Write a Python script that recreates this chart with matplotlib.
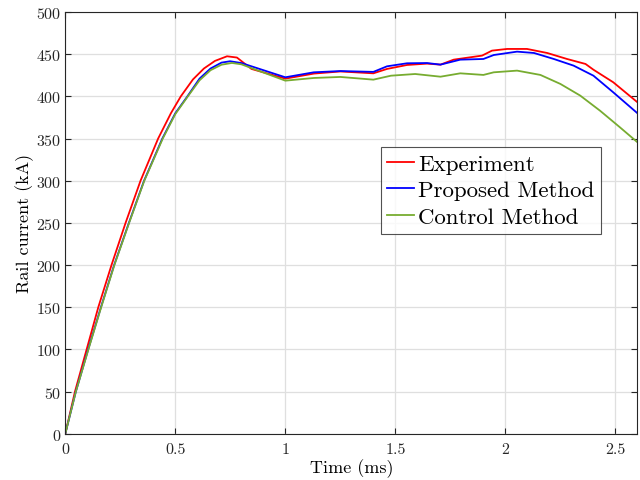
import numpy as np
import matplotlib
matplotlib.use("Agg")
import matplotlib.pyplot as plt

plt.rcParams['font.family'] = 'serif'
plt.rcParams['font.serif'] = ['cmr10']
plt.rcParams['mathtext.fontset'] = 'cm'
plt.rcParams['axes.formatter.use_mathtext'] = True

# Experiment (red)
tExp = [0, 0.044, 0.097, 0.150, 0.210, 0.274, 0.342, 0.422, 0.48, 0.525, 0.58, 0.63, 0.68, 0.735,
        0.78, 0.846, 1.0, 1.13, 1.25, 1.40, 1.462, 1.553, 1.644, 1.705, 1.765, 1.894, 1.939,
        2.008, 2.098, 2.19, 2.28, 2.364, 2.40, 2.49, 2.6]
iExp = [0, 50, 100, 150, 200, 250, 300, 350, 380, 400, 420, 433, 442, 447.5,
        446, 432.5, 421, 427, 429.5, 427.3, 432.5, 437.2, 438.8, 437.6, 443.5, 448.3, 454.2,
        456.2, 456.2, 451.4, 444.3, 438.4, 431.6, 416.7, 393]

# Proposed Method (blue)
tProp = [0, 0.048, 0.104, 0.162, 0.222, 0.289, 0.358, 0.441, 0.50, 0.555, 0.61, 0.66, 0.71,
         0.749, 0.80, 1.0, 1.129, 1.25, 1.40, 1.462, 1.553, 1.644, 1.705, 1.795, 1.90, 1.947,
         2.053, 2.13, 2.22, 2.31, 2.40, 2.49, 2.6]
iProp = [0, 50, 100, 150, 200, 250, 300, 350, 380, 400, 421, 433, 440,
         441.6, 439.5, 422.6, 428.5, 430, 429, 435.6, 439.2, 439.5, 437.6, 443.5, 444.3, 449,
         453, 451.4, 444.3, 436.4, 424.5, 404.8, 380]

# Control Method (green)
tCtrl = [0, 0.048, 0.105, 0.163, 0.223, 0.290, 0.359, 0.443, 0.50, 0.557, 0.61, 0.66, 0.71,
         0.757, 0.80, 1.0, 1.13, 1.25, 1.40, 1.48, 1.59, 1.705, 1.795, 1.90, 1.947, 2.053,
         2.159, 2.25, 2.34, 2.43, 2.52, 2.6]
iCtrl = [0, 50, 100, 150, 200, 250, 300, 350, 379, 400, 419, 431, 437.5,
         439.6, 438, 418.6, 421.8, 423, 419.8, 424.5, 426.5, 423.3, 427.3, 425.4, 428.5, 430.5,
         425.4, 414.7, 400.9, 383, 363.4, 345.6]

vtXTicks = [0, 0.5, 1, 1.5, 2, 2.5]
vtXLabels = ['0', '0.5', '1', '1.5', '2', '2.5']
vtYTicks = list(range(0, 501, 50))

fig = plt.figure(figsize=(6.4, 4.81), dpi=100)
ax = fig.add_axes([0.102, 0.096, 0.894, 0.877])

ax.plot(tExp, iExp, color='#ff0000', lw=1.3, label='Experiment')
ax.plot(tProp, iProp, color='#0000ff', lw=1.3, label='Proposed Method')
ax.plot(tCtrl, iCtrl, color='#77ac30', lw=1.3, label='Control Method')

ax.set_xlim(0, 2.6)
ax.set_ylim(0, 500)
ax.set_xticks(vtXTicks)
ax.set_xticklabels(vtXLabels)
ax.set_yticks(vtYTicks)
ax.grid(True, color='#dfdfdf', lw=0.9)
ax.set_axisbelow(True)
ax.tick_params(direction='in', top=True, right=True, labelsize=11.5, colors='#262626',
               length=4, width=0.8, pad=3)
ax.tick_params(axis='x', pad=6)
for s in ax.spines.values():
    s.set_color('#262626')
    s.set_linewidth(0.8)

ax.set_xlabel('Time (ms)', fontsize=13, labelpad=1.5)
ax.set_ylabel('Rail current (kA)', fontsize=13, labelpad=1)

leg = ax.legend(loc='upper left', bbox_to_anchor=(0.551, 0.680), fontsize=16.5,
                fancybox=False, edgecolor='#262626', handlelength=1.15, handletextpad=0.2,
                borderpad=0.3, labelspacing=0.28, borderaxespad=0)
leg.get_frame().set_linewidth(0.8)

fig.savefig('out.png', dpi=100)
